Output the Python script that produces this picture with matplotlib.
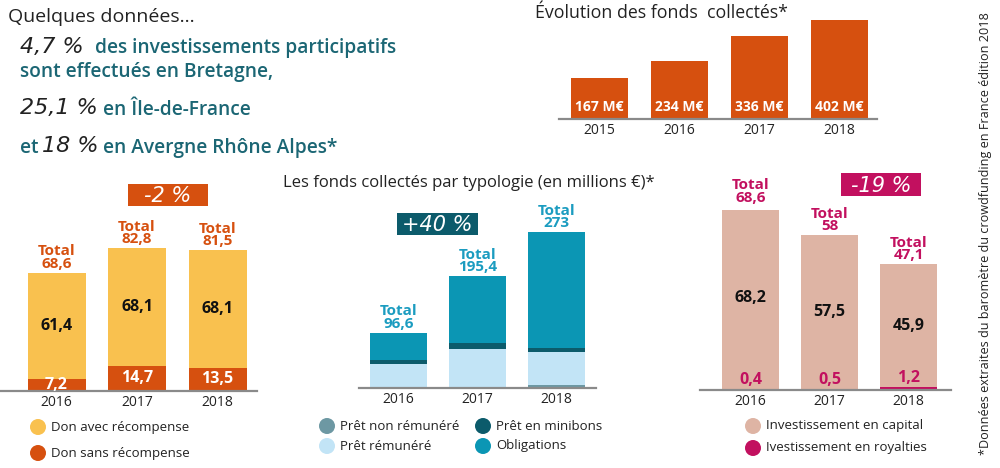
import matplotlib.pyplot as plt
from matplotlib.patches import Circle, Rectangle

W, H = 1000, 468
FONT = "Open Sans"
HAND = "DejaVu Sans"

# --- data -------------------------------------------------------------
years_fonds = ["2015", "2016", "2017", "2018"]
fonds_total = [167, 234, 336, 402]

years = ["2016", "2017", "2018"]
don_sans = [7.2, 14.7, 13.5]
don_avec = [61.4, 68.1, 68.1]
don_total = [68.6, 82.8, 81.5]

pret_non_rem = [0.8, 1.0, 5.5]
pret_rem = [41.0, 67.0, 58.0]
pret_minibons = [8.0, 10.5, 6.0]
obligations = [46.8, 116.9, 203.5]
pret_total = [96.6, 195.4, 273]

royalties = [0.4, 0.5, 1.2]
capital = [68.2, 57.5, 45.9]
equity_total = [68.6, 58, 47.1]

# --- colours ----------------------------------------------------------
ORANGE = "#d6500f"
YELLOW = "#f9c14f"
TEAL_TXT = "#1b6674"
TEAL_TOT = "#1b9cc0"
C_NONREM = "#6d98a3"
C_REM = "#c2e4f6"
C_MINI = "#0c5b6b"
C_OBLI = "#0b96b4"
C_CAP = "#deb4a4"
MAGENTA = "#c2105f"
AXIS = "#8a8a8a"


def fmt(v):
    return f"{v:g}".replace(".", ",")


def panel(x0, x1, base, top, scale, first_c, step, width_px, labels):
    # axes placed in pixel coordinates; one y unit = scale px
    ax = fig.add_axes([x0 / W, (H - base) / H, (x1 - x0) / W, (base - top) / H])
    ax.set_xlim((x0 - first_c) / step, (x1 - first_c) / step)
    ax.set_ylim(0, (base - top) / scale)
    ax.patch.set_visible(False)
    for s in ["top", "left", "right"]:
        ax.spines[s].set_visible(False)
    ax.spines["bottom"].set_color(AXIS)
    ax.spines["bottom"].set_linewidth(1.6)
    ax.set_yticks([])
    ax.set_xticks(range(len(labels)))
    ax.set_xticklabels(labels, fontsize=10, family=FONT, color="#222222")
    ax.tick_params(axis="x", length=0, pad=3)
    return ax, width_px / step


def totals(ax, tot, color):
    for i, v in enumerate(tot):
        ax.annotate(f"Total\n{fmt(v)}", (i, v), xytext=(0, 2), textcoords="offset pixels",
                    ha="center", va="bottom", fontsize=11, fontweight="bold",
                    color=color, family=FONT, linespacing=0.85, annotation_clip=False)


def tag(x0, y0, w, h, txt, color):
    ov.add_patch(Rectangle((x0, y0), w, h, color=color, lw=0))
    ov.text(x0 + w / 2, y0 + h / 2 + 1, txt, ha="center", va="center", color="white",
            fontsize=15, family=HAND, fontweight="light", style="italic")


def legend_dot(x, y, color, label):
    ov.add_patch(Circle((x, y), 8, color=color, lw=0))
    ov.text(x + 13, y, label, va="center", ha="left", fontsize=9.5, family=FONT, color="#222222")


def hand(x, y, txt):
    ov.text(x, y, txt, fontsize=16, family=HAND, fontweight="light", style="italic",
            color="#222222", va="center")


fig = plt.figure(figsize=(W / 100, H / 100), dpi=100)

# overlay axes in pixel coords for free text, tags and legends
ov = fig.add_axes([0, 0, 1, 1])
ov.set_xlim(0, W)
ov.set_ylim(H, 0)
ov.axis("off")

# --- texte en haut à gauche --------------------------------------------
BLUE_TXT = dict(fontsize=13.8, family=FONT, fontweight="semibold", color=TEAL_TXT, va="center")
ov.text(8, 17, "Quelques données...", fontsize=14, family=FONT, color="#222222", va="center")
hand(20, 47, "4,7 %")
ov.text(95, 48, "des investissements participatifs", **BLUE_TXT)
ov.text(20, 72, "sont effectués en Bretagne,", **BLUE_TXT)
hand(20, 108, "25,1 %")
ov.text(103, 110, "en Île-de-France", **BLUE_TXT)
ov.text(20, 148, "et", **BLUE_TXT)
hand(42, 146, "18 %")
ov.text(103, 148, "en Avergne Rhône Alpes*", **BLUE_TXT)

# --- Évolution des fonds collectés ---------------------------------------
ov.text(535, 13, "Évolution des fonds  collectés*", fontsize=12.8, family=FONT, color="#222222", va="center")
ax, bw = panel(559, 877, 119, 20, 99 / 402, 599.5, 80, 57, years_fonds)
ax.bar(range(4), fonds_total, width=bw, color=ORANGE)
for i, v in enumerate(fonds_total):
    ax.annotate(f"{v} M€", (i, 0), xytext=(0, 12), textcoords="offset pixels", ha="center", va="center",
                color="white", fontsize=10, fontweight="bold", family=FONT)

# --- Dons ---------------------------------------------------------------
ax, bw = panel(0, 257, 391, 230, 1.727, 56.5, 80.5, 58, years)
ax.bar(range(3), don_sans, width=bw, color=ORANGE)
ax.bar(range(3), don_avec, width=bw, bottom=don_sans, color=YELLOW)
for i in range(3):
    ax.text(i, don_sans[i] / 2, fmt(don_sans[i]), ha="center", va="center", color="white",
            fontsize=11.5, fontweight="bold", family=FONT)
    ax.text(i, don_sans[i] + don_avec[i] / 2, fmt(don_avec[i]), ha="center", va="center",
            color="#111111", fontsize=11.5, fontweight="bold", family=FONT)
totals(ax, don_total, ORANGE)
tag(128, 184, 80, 22, "-2 %", ORANGE)
legend_dot(38, 427, YELLOW, "Don avec récompense")
legend_dot(38, 453, ORANGE, "Don sans récompense")

# --- Prêts / obligations -------------------------------------------------
ov.text(283, 183, "Les fonds collectés par typologie (en millions €)*", fontsize=12, family=FONT,
        color="#222222", va="center")
ax, bw = panel(359, 596, 388, 230, 0.571, 398.5, 79, 57, years)
bottom = [0, 0, 0]
for vals, col in [(pret_non_rem, C_NONREM), (pret_rem, C_REM), (pret_minibons, C_MINI), (obligations, C_OBLI)]:
    ax.bar(range(3), vals, width=bw, bottom=bottom, color=col)
    bottom = [b + v for b, v in zip(bottom, vals)]
totals(ax, pret_total, TEAL_TOT)
tag(397, 213, 81, 22, "+40 %", C_MINI)
legend_dot(327, 426, C_NONREM, "Prêt non rémunéré")
legend_dot(327, 446, C_REM, "Prêt rémunéré")
legend_dot(483, 426, C_MINI, "Prêt en minibons")
legend_dot(483, 446, C_OBLI, "Obligations")

# --- Investissement -------------------------------------------------------
ax, bw = panel(700, 951, 390, 210, 2.67, 750.5, 79, 57, years)
ax.bar(range(3), royalties, width=bw, color=MAGENTA)
ax.bar(range(3), capital, width=bw, bottom=royalties, color=C_CAP)
for i in range(3):
    ax.text(i, royalties[i] + capital[i] / 2, fmt(capital[i]), ha="center", va="center",
            color="#111111", fontsize=11.5, fontweight="bold", family=FONT)
    ax.annotate(fmt(royalties[i]), (i, royalties[i]), xytext=(0, 1), textcoords="offset pixels",
                ha="center", va="bottom", color=MAGENTA, fontsize=11.5, fontweight="bold", family=FONT)
totals(ax, equity_total, MAGENTA)
tag(841, 173, 80, 23, "-19 %", MAGENTA)
legend_dot(753, 426, C_CAP, "Investissement en capital")
legend_dot(753, 448, MAGENTA, "Ivestissement en royalties")

# --- source -------------------------------------------------------------
ov.text(986, 234, "*Données extraites du baromètre du crowdfunding en France édition 2018",
        rotation=90, ha="center", va="center", fontsize=9.1, family=FONT, color="#222222")

fig.savefig("out.png", dpi=100)
